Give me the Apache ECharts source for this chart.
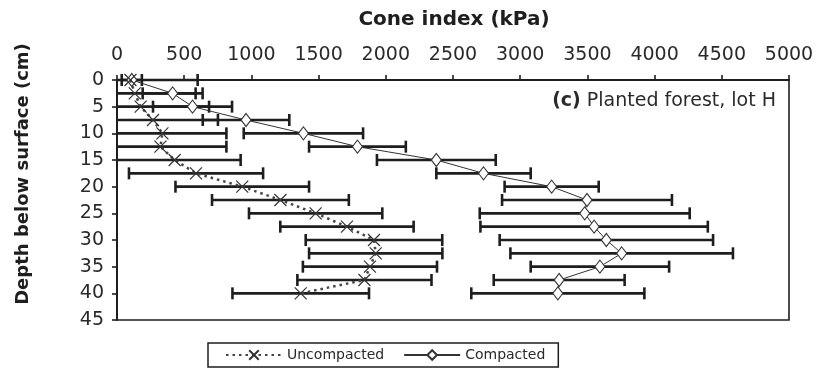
<!DOCTYPE html>
<html>
<head>
<meta charset="utf-8">
<script src="https://cdn.jsdelivr.net/npm/echarts@6/dist/echarts.min.js"></script>
<style>
html,body{margin:0;padding:0;background:#fff;}
#chart{width:817px;height:378px;}
</style>
</head>
<body>
<div id="chart"></div>
<script>
// Depth below surface (cm)
var depths = [0, 2.5, 5, 7.5, 10, 12.5, 15, 17.5, 20, 22.5, 25, 27.5, 30, 32.5, 35, 37.5, 40];
// Cone index (kPa) means and standard deviations
var uncompactedMean = [100, 132, 176, 268, 338, 323, 429, 588, 932, 1216, 1478, 1711, 1912, 1925, 1882, 1841, 1367];
var uncompactedSD   = [500, 453, 509, 483, 476, 491, 491, 499, 497, 509, 496, 496, 508, 496, 499, 499, 508];
var compactedMean   = [110, 414, 562, 960, 1387, 1789, 2376, 2727, 3234, 3497, 3480, 3550, 3641, 3755, 3593, 3290, 3280];
var compactedSD     = [75, 223, 294, 322, 444, 360, 442, 351, 350, 632, 781, 846, 794, 828, 515, 487, 644];
var xTicks = [0, 500, 1000, 1500, 2000, 2500, 3000, 3500, 4000, 4500, 5000];
var yTicks = [0, 5, 10, 15, 20, 25, 30, 35, 40, 45];

var FONT = 'DejaVu Sans';
var INK = '#1e1e1e';

function pairs(means) {
  return means.map(function (m, i) { return [m, depths[i]]; });
}
function bars(means, sds) {
  return means.map(function (m, i) { return [m - sds[i], m + sds[i], depths[i]]; });
}
function renderErr(params, api) {
  var rawLo = api.value(0);
  var lo = Math.max(0, rawLo), hi = api.value(1), d = api.value(2);
  var p1 = api.coord([lo, d]), p2 = api.coord([hi, d]);
  var h = 6;
  var st = { stroke: INK, lineWidth: 2.6 };
  var kids = [{ type: 'line', shape: { x1: p1[0], y1: p1[1], x2: p2[0], y2: p2[1] }, style: st }];
  if (rawLo > 0) kids.push({ type: 'line', shape: { x1: p1[0], y1: p1[1] - h, x2: p1[0], y2: p1[1] + h }, style: st });
  kids.push({ type: 'line', shape: { x1: p2[0], y1: p2[1] - h, x2: p2[0], y2: p2[1] + h }, style: st });
  return { type: 'group', children: kids };
}

var chart = echarts.init(document.getElementById('chart'), null, { renderer: 'canvas' });
chart.setOption({
  animation: false,
  backgroundColor: '#fff',
  grid: { left: 117, top: 80, width: 672, height: 240, show: true, borderColor: INK, borderWidth: 1.6, containLabel: false },
  xAxis: {
    type: 'value', position: 'top', min: xTicks[0], max: xTicks[xTicks.length - 1], interval: 500,
    axisLine: { show: true, lineStyle: { color: INK, width: 2 } },
    axisTick: { show: true, inside: false, length: 5, lineStyle: { color: INK, width: 1.6 } },
    axisLabel: { margin: 15, fontFamily: FONT, fontSize: 19, color: '#2a2a2a', formatter: function (v) { return String(v); } },
    splitLine: { show: false }
  },
  yAxis: {
    type: 'value', inverse: true, min: yTicks[0], max: yTicks[yTicks.length - 1], interval: 5,
    axisLine: { show: true, lineStyle: { color: INK, width: 2 } },
    axisTick: { show: true, inside: false, length: 5, lineStyle: { color: INK, width: 1.6 } },
    axisLabel: { margin: 13, fontFamily: FONT, fontSize: 19, color: '#2a2a2a', formatter: function (v) { return String(v); } },
    splitLine: { show: false }
  },
  legend: {
    data: ['Uncompacted', 'Compacted'],
    left: 208, top: 343, orient: 'horizontal',
    itemWidth: 56, itemHeight: 12, itemGap: 19,
    padding: [5, 13, 5, 17],
    borderColor: INK, borderWidth: 1.5,
    selectedMode: false,
    textStyle: { fontFamily: FONT, fontSize: 14, color: '#2a2a2a' }
  },
  graphic: [
    { type: 'text', x: 454, y: 20, style: { text: 'Cone index (kPa)', fontFamily: FONT, fontWeight: 'bold', fontSize: 20, fill: '#1e1e1e', align: 'center', verticalAlign: 'middle' } },
    { type: 'text', x: 23, y: 174, rotation: Math.PI / 2, style: { text: 'Depth below surface (cm)', fontFamily: FONT, fontWeight: 'bold', fontSize: 18, fill: '#1e1e1e', align: 'center', verticalAlign: 'middle' } },
    { type: 'text', x: 776, y: 101, style: {
        text: '{b|(c)} Planted forest, lot H', align: 'right', verticalAlign: 'middle',
        fontFamily: FONT, fontSize: 19, fill: '#2a2a2a',
        rich: { b: { fontFamily: FONT, fontSize: 19, fontWeight: 'bold', fill: '#2a2a2a' } }
      } }
  ],
  series: [
    { name: 'Uncompacted SD', type: 'custom', renderItem: renderErr, data: bars(uncompactedMean, uncompactedSD), encode: { x: [0, 1], y: 2 }, z: 1, silent: true },
    { name: 'Compacted SD', type: 'custom', renderItem: renderErr, data: bars(compactedMean, compactedSD), encode: { x: [0, 1], y: 2 }, z: 1, silent: true },
    {
      name: 'Compacted', type: 'line', data: pairs(compactedMean), z: 3,
      symbol: 'diamond', symbolSize: [10, 13], showSymbol: true,
      lineStyle: { color: '#333', width: 1, type: 'solid' },
      itemStyle: { color: '#fff', borderColor: '#333', borderWidth: 1.1 }
    },
    {
      name: 'Uncompacted', type: 'line', data: pairs(uncompactedMean), z: 4,
      symbol: 'path://M0,0L10,10M0,10L10,0', symbolSize: 12, showSymbol: true,
      lineStyle: { color: '#444', width: 2.5, type: [2.5, 4] },
      itemStyle: { color: 'rgba(0,0,0,0)', borderColor: '#333', borderWidth: 1.2 }
    }
  ]
});
</script>
</body>
</html>
